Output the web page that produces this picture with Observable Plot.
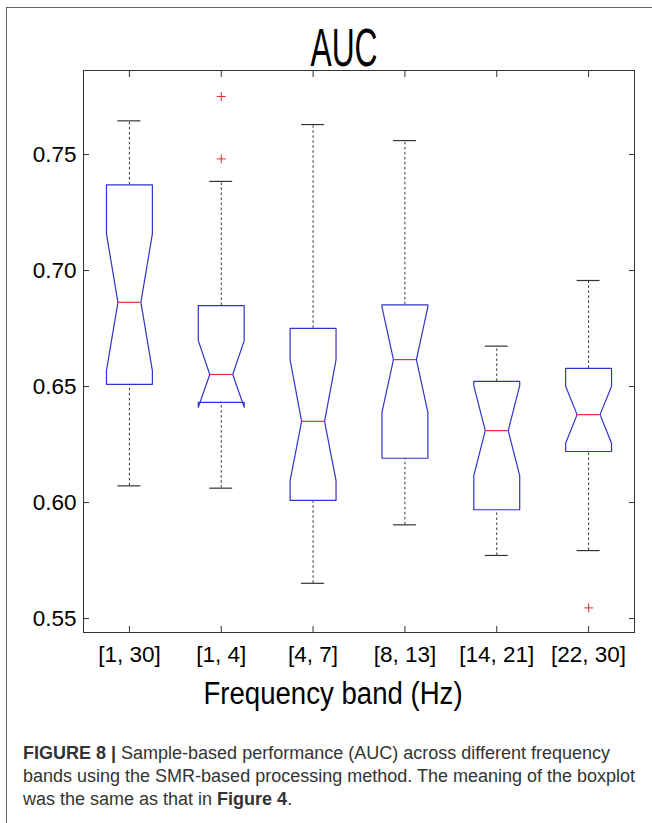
<!DOCTYPE html>
<html><head><meta charset="utf-8">
<script src="https://cdn.jsdelivr.net/npm/d3@7"></script>
<script src="https://cdn.jsdelivr.net/npm/@observablehq/plot@0.6"></script>
<style>
body{margin:0;background:#fff;}
#wrap{position:relative;width:652px;height:823px;overflow:hidden;font-family:"Liberation Sans",Arial,sans-serif;background:#fff;}
#border{position:absolute;left:6px;top:7px;width:700px;height:900px;border-left:1.5px solid #666;border-top:1.5px solid #666;}
.t{position:absolute;white-space:nowrap;line-height:1;color:#000;}
#chart{position:absolute;left:0;top:0;}
#title{font-size:53px;left:344px;top:21px;transform:translateX(-50%) scaleX(0.6);transform-origin:center;}
#xlabel{font-size:31px;left:333px;top:678px;transform:translateX(-50%) scaleX(0.89);}
#cap{position:absolute;left:23px;top:742px;font-size:18px;line-height:23px;color:#333;white-space:nowrap;}
</style></head><body><div id="wrap"><div id="border"></div>
<div id="title" class="t">AUC</div>
<div id="chart"></div>
<div id="xlabel" class="t">Frequency band (Hz)</div>
<div id="cap"><b>FIGURE 8 |</b> Sample-based performance (AUC) across different frequency<br>bands using the SMR-based processing method. The meaning of the boxplot<br>was the same as that in <b>Figure 4</b>.</div>
</div>
<script>
const bands = ["[1, 30]", "[1, 4]", "[4, 7]", "[8, 13]", "[14, 21]", "[22, 30]"];
const upperWhisker = [0.7645, 0.7384, 0.7629, 0.7560, 0.6674, 0.6957];
const q3 = [0.7369, 0.6849, 0.6751, 0.6852, 0.6522, 0.6578];
const notchHigh = [0.7158, 0.6698, 0.6615, 0.6843, 0.6504, 0.6501];
const median = [0.6863, 0.6552, 0.6350, 0.6616, 0.6310, 0.6379];
const notchLow = [0.6569, 0.6411, 0.6095, 0.6389, 0.6116, 0.6256];
const q1 = [0.6509, 0.6432, 0.6009, 0.6191, 0.5969, 0.6220];
const lowerWhisker = [0.6072, 0.6062, 0.5652, 0.5904, 0.5772, 0.5793];
const outlierBand = ["[1, 4]", "[1, 4]", "[22, 30]"];
const outlierValue = [0.775, 0.7481, 0.5546];
const yTicks = [0.55, 0.60, 0.65, 0.70, 0.75];

const pos = b => bands.indexOf(b) + 1;
const HW = 0.25, NW = 0.125;
const stats = bands.map((b, i) => ({band: b, c: i + 1, uw: upperWhisker[i], q3: q3[i], nh: notchHigh[i], med: median[i], nl: notchLow[i], q1: q1[i], lw: lowerWhisker[i]}));
const boxPts = stats.flatMap(s => [
  [s.c - HW, s.q3], [s.c + HW, s.q3], [s.c + HW, s.nh], [s.c + NW, s.med], [s.c + HW, s.nl], [s.c + HW, s.q1],
  [s.c - HW, s.q1], [s.c - HW, s.nl], [s.c - NW, s.med], [s.c - HW, s.nh], [s.c - HW, s.q3]
].map(([x, y]) => ({band: s.band, x, y})));
const outliers = outlierBand.map((b, i) => ({x: pos(b), y: outlierValue[i]}));
const plus = {draw(ctx, size) { const r = Math.sqrt(size / Math.PI); ctx.moveTo(-r, 0); ctx.lineTo(r, 0); ctx.moveTo(0, -r); ctx.lineTo(0, r); }};
const xt = bands.map((b, i) => i + 1);
const blank = () => "";

const chart = Plot.plot({
  width: 652, height: 720,
  marginTop: 70, marginLeft: 83, marginRight: 18, marginBottom: 88,
  style: {fontFamily: "'Liberation Sans', Arial, sans-serif", color: "#000", background: "transparent", overflow: "visible"},
  x: {type: "linear", domain: [0.5, 6.5]},
  y: {domain: [0.544, 0.7862]},
  marks: [
    Plot.ruleX(stats, {x: "c", y1: "q3", y2: "uw", stroke: "#333", strokeDasharray: "2.5,2.5", strokeWidth: 1}),
    Plot.ruleX(stats, {x: "c", y1: "lw", y2: "q1", stroke: "#333", strokeDasharray: "2.5,2.5", strokeWidth: 1}),
    Plot.ruleY(stats, {y: "uw", x1: d => d.c - NW, x2: d => d.c + NW, stroke: "#333", strokeWidth: 1.2}),
    Plot.ruleY(stats, {y: "lw", x1: d => d.c - NW, x2: d => d.c + NW, stroke: "#333", strokeWidth: 1.2}),
    Plot.line(boxPts, {x: "x", y: "y", z: "band", stroke: "#3333cc", strokeWidth: 1.2}),
    Plot.ruleY(stats, {y: "med", x1: d => d.c - NW, x2: d => d.c + NW, stroke: "#e03030", strokeWidth: 1.2}),
    Plot.dot(outliers, {x: "x", y: "y", symbol: plus, r: 4.5, stroke: "#e03030", fill: "none", strokeWidth: 1}),
    Plot.frame({stroke: "#333", strokeWidth: 1}),
    Plot.axisX({anchor: "bottom", ticks: xt, tickFormat: i => bands[i - 1], tickSize: 0, tickPadding: 14, fontSize: 22.5, label: null}),
    Plot.axisX({anchor: "bottom", ticks: xt, tickFormat: blank, tickSize: -6, label: null, stroke: "#333"}),
    Plot.axisX({anchor: "top", ticks: xt, tickFormat: blank, tickSize: -6, label: null, stroke: "#333"}),
    Plot.axisY({anchor: "left", ticks: yTicks, tickFormat: d3.format(".2f"), tickSize: 0, tickPadding: 7, fontSize: 22.5, label: null}),
    Plot.axisY({anchor: "left", ticks: yTicks, tickFormat: blank, tickSize: -6, label: null, stroke: "#333"}),
    Plot.axisY({anchor: "right", ticks: yTicks, tickFormat: blank, tickSize: -6, label: null, stroke: "#333"})
  ]
});
document.getElementById("chart").appendChild(chart);
</script>
</body></html>
